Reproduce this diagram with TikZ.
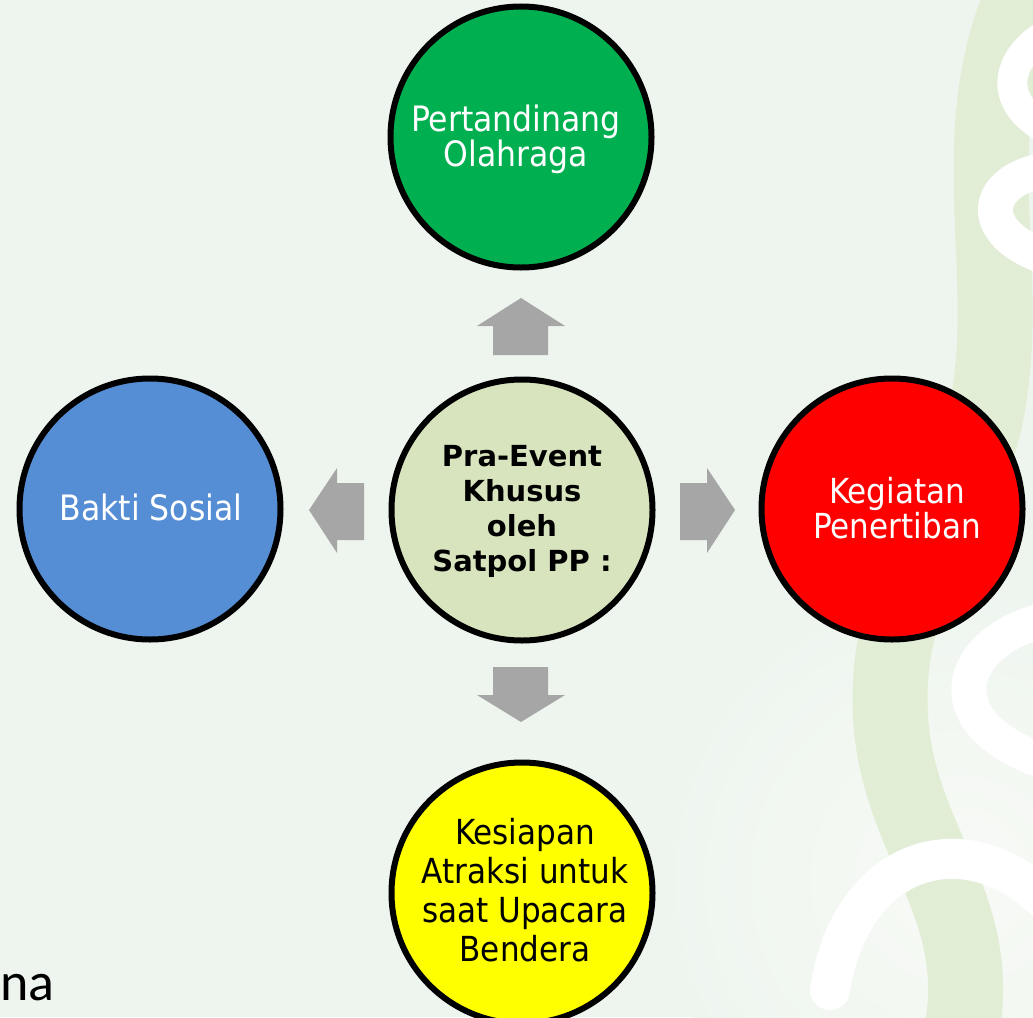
\documentclass[tikz,border=0pt]{standalone}
\usepackage{fontspec}
\setmainfont{DejaVu Sans Condensed}
\newfontfamily\boldfam{DejaVu Sans Bold}
\newfontfamily\nafont{Carlito}
\definecolor{bgmint}{HTML}{EEF5EF}
\definecolor{bgpale}{HTML}{F8FAF6}
\definecolor{decogreen}{HTML}{E2EDD6}
\definecolor{arrowgray}{HTML}{A6A6A6}
\definecolor{centerfill}{HTML}{D7E4BD}
\definecolor{topfill}{HTML}{00B050}
\definecolor{leftfill}{HTML}{558ED5}
\definecolor{rightfill}{HTML}{FF0000}
\definecolor{bottomfill}{HTML}{FFFF00}
\begin{document}
\begin{tikzpicture}[x=1pt,y=-1pt,
  bubble/.style={circle, draw=black, line width=6pt, minimum size=261pt, inner sep=0pt, align=center},
  txt/.style={inner sep=0pt, align=center},
  blockarrow/.style={fill=arrowgray, draw=none}]
% background
\useasboundingbox (0,0) rectangle (1033,1017);
\fill[bgmint] (0,0) rectangle (1033,1017);
\begin{scope}
\clip (0,0) rectangle (1033,1017);
\shade[inner color=bgpale, outer color=bgmint] (960,880) circle (300);
\draw[decogreen, line width=75pt] (1030,-20) .. controls (960,120) and (1010,260) .. (990,390) .. controls (975,520) and (890,560) .. (890,700) .. controls (890,840) and (990,900) .. (960,1040);
\draw[white, line width=30pt, line cap=round] (1045,35) .. controls (1005,60) and (1000,100) .. (1040,125);
\draw[white, line width=35pt, line cap=round] (1045,170) .. controls (985,180) and (975,230) .. (1040,255);
\draw[white, line width=35pt, line cap=round] (1045,620) .. controls (960,640) and (930,720) .. (1040,760);
\draw[white, line width=40pt, line cap=round] (830,990) .. controls (850,860) and (960,820) .. (1045,900);
\end{scope}
% circles
\node[bubble, fill=centerfill] (c) at (522,510) {};
\node[txt, font=\boldfam\fontsize{29}{35}\selectfont] (ct) at (522,511) {Pra-Event\\Khusus\\oleh\\Satpol PP\mdseries\ :};
\node[bubble, fill=topfill] (t) at (521,137) {};
\node[txt, text=white, font=\fontsize{35}{27}\selectfont] (tt) at (516,139) {Pertandinang\\Olahraga};
\node[bubble, fill=leftfill] (l) at (150,509) {};
\node[txt, text=white, font=\fontsize{35}{30}\selectfont] (lt) at (151,507) {Bakti Sosial};
\node[bubble, fill=rightfill] (r) at (892,509) {};
\node[txt, text=white, font=\fontsize{34.5}{28}\selectfont] (rt) at (897,508) {Kegiatan\\Penertiban};
\node[bubble, fill=bottomfill] (b) at (522,893) {};
\node[txt, font=\fontsize{34.5}{39}\selectfont] (bt) at (525,890) {Kesiapan\\Atraksi untuk\\saat Upacara\\Bendera};
% block arrows
\fill[blockarrow] (521,298) -- (565,326) -- (548,326) -- (548,355) -- (493,355) -- (493,326) -- (477,326) -- cycle;
\fill[blockarrow] (521,722) -- (565,695) -- (548,695) -- (548,667) -- (493,667) -- (493,695) -- (477,695) -- cycle;
\fill[blockarrow] (309,510) -- (337,468) -- (337,483) -- (364,483) -- (364,540) -- (337,540) -- (337,553) -- cycle;
\fill[blockarrow] (735,510) -- (707,468) -- (707,483) -- (680,483) -- (680,540) -- (707,540) -- (707,553) -- cycle;
% stray text
\node[inner sep=0pt, anchor=base west, font=\nafont\fontsize{54}{60}\selectfont] (na) at (0,1000) {na};
\end{tikzpicture}
\end{document}
